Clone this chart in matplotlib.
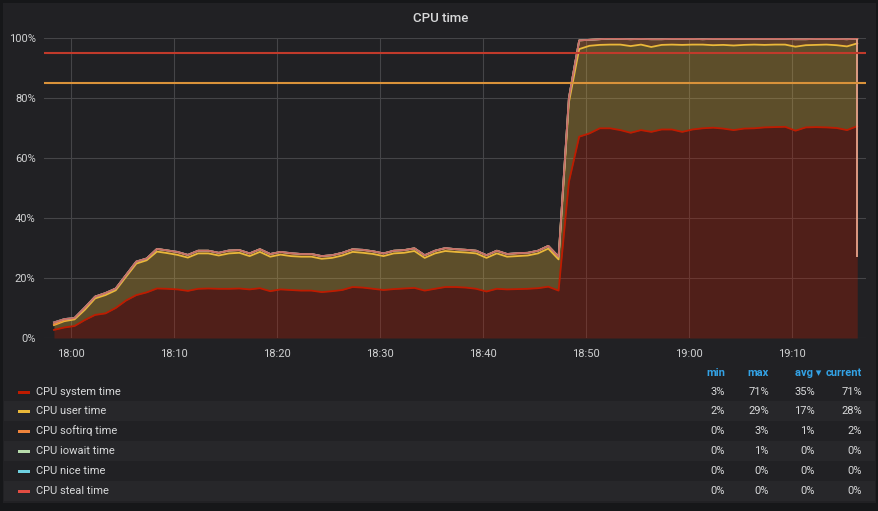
import numpy as np
import pandas as pd
import matplotlib
matplotlib.use('Agg')
import matplotlib.pyplot as plt
import matplotlib.dates as mdates
from matplotlib.patches import Rectangle

plt.rcParams['font.family'] = ['Roboto', 'DejaVu Sans']

# one sample per minute, first one at 17:58:20
times = pd.date_range('2020-01-01 17:58:20', periods=79, freq='1min')

system = [2.7, 3.5, 4.0, 6.0, 7.7, 8.2, 10.0, 12.5, 14.3, 15.2,
          16.5, 16.4, 16.2, 15.7, 16.4, 16.5, 16.4, 16.4, 16.5, 16.2,
          16.6, 15.6, 16.2, 16.0, 15.8, 15.8, 15.3, 15.6, 16.0, 17.0,
          16.8, 16.4, 16.0, 16.3, 16.5, 16.7, 15.8, 16.4, 17.0, 17.0,
          16.8, 16.4, 15.5, 16.4, 16.2, 16.3, 16.4, 16.6, 17.1, 15.8,
          52.0, 67.1, 68.2, 69.9, 69.9, 69.3, 68.4, 69.3, 68.7, 69.5,
          69.5, 68.7, 69.5, 69.9, 70.1, 69.8, 69.3, 69.8, 69.9, 70.2,
          70.3, 70.4, 69.1, 70.2, 70.3, 70.2, 70.0, 69.3, 70.6]
user = [1.6, 2.1, 2.2, 3.4, 5.5, 6.1, 5.9, 7.9, 10.5, 10.7,
        12.3, 11.9, 11.5, 11.1, 11.8, 11.7, 11.1, 11.8, 11.9, 11.1,
        12.1, 11.5, 11.6, 11.3, 11.3, 11.3, 11.1, 11.1, 11.5, 11.7,
        11.6, 11.6, 11.3, 11.9, 11.9, 12.3, 10.9, 11.8, 12.0, 11.7,
        11.7, 11.8, 11.2, 11.8, 10.9, 11.0, 11.1, 11.6, 12.7, 10.4,
        26.5, 29.2, 29.2, 27.8, 27.9, 28.5, 28.9, 28.5, 28.3, 28.2,
        28.3, 29.0, 28.3, 27.9, 27.5, 27.9, 28.2, 27.9, 27.9, 27.5,
        27.5, 27.4, 28.0, 27.4, 27.4, 27.6, 27.6, 27.9, 27.6]
softirq = [0.3, 0.4, 0.4, 0.6, 0.6, 0.6, 0.6, 0.6, 0.6, 0.6,
           0.9, 0.9, 0.9, 0.9, 0.9, 0.9, 0.9, 0.9, 0.9, 0.9,
           0.9, 0.9, 0.9, 0.9, 0.9, 0.9, 0.9, 0.9, 0.9, 0.9,
           0.9, 0.9, 0.9, 0.9, 0.9, 0.9, 0.9, 0.9, 0.9, 0.9,
           0.9, 0.9, 0.9, 0.9, 0.9, 0.9, 0.9, 0.9, 0.9, 0.9,
           1.5, 2.9, 2.0, 1.9, 2.0, 1.9, 2.3, 1.9, 2.6, 1.9,
           1.9, 2.0, 1.9, 1.8, 2.1, 2.0, 2.2, 2.0, 1.9, 2.0,
           1.9, 1.9, 2.5, 2.0, 2.0, 1.9, 2.1, 2.4, 1.6]
iowait = [0.6, 0.3, 0.1, 0.2, 0.0, 0.1, 0.0, 0.0, 0.1, 0.0,
          0.0, 0.0, 0.1, 0.0, 0.0, 0.0, 0.0, 0.1, 0.0, 0.0,
          0.0, 0.0, 0.0, 0.1, 0.0, 0.0, 0.0, 0.0, 0.0, 0.0,
          0.1, 0.0, 0.0, 0.0, 0.0, 0.0, 0.0, 0.0, 0.1, 0.0,
          0.0, 0.0, 0.0, 0.0, 0.0, 0.1, 0.0, 0.0, 0.0, 0.0,
          0.0, 0.0, 0.0, 0.0, 0.0, 0.0, 0.0, 0.0, 0.0, 0.0,
          0.0, 0.0, 0.0, 0.0, 0.0, 0.0, 0.0, 0.0, 0.0, 0.0,
          0.0, 0.0, 0.0, 0.0, 0.0, 0.0, 0.0, 0.0, 0.0]
nice = [0.0] * len(times)   # flat zero all along
steal = [0.0] * len(times)  # flat zero all along
last_drop = 27  # the edge falls to this at the very last sample

names = ['CPU system time', 'CPU user time', 'CPU softirq time',
         'CPU iowait time', 'CPU nice time', 'CPU steal time']
colors = ['#bf1b00', '#eab839', '#ef843c', '#b7dbab', '#6ed0e0', '#e24d42']
stat_min = [3, 2, 0, 0, 0, 0]
stat_max = [71, 29, 3, 1, 0, 0]
stat_avg = [35, 17, 1, 0, 0, 0]
stat_cur = [71, 28, 2, 0, 0, 0]
thresholds = [95, 85]
threshold_colors = ['#c13a2b', '#d9923a']

W, H = 879, 511
fig = plt.figure(figsize=(W / 100, H / 100), dpi=100)
fig.patch.set_facecolor('#161719')

def fx(px):
    return px / W

def fy(py):
    return 1 - py / H

# panel background
fig.patches.append(Rectangle((fx(3), fy(503)), fx(873), 500 / H, transform=fig.transFigure,
                             facecolor='#212124', edgecolor='none', zorder=-2))

fig.text(fx(441), fy(18), 'CPU time', color='#d8d9da', fontsize=9.5, fontweight='medium',
         ha='center', va='center')

ax = fig.add_axes([fx(44), fy(338), fx(866 - 44), 300 / H])
ax.set_facecolor('none')
ax.set_zorder(1)

stack = np.vstack([system, user, softirq, iowait, nice, steal])
cum = np.cumsum(stack, axis=0)
bottom = np.zeros(len(times))
for k in range(len(names)):
    top = cum[k]
    ax.fill_between(times, bottom, top, color=colors[k], alpha=0.3, lw=0, zorder=2)
    ax.plot(times, top, color=colors[k], lw=1.3, alpha=0.75 if k > 2 else 1, zorder=3)
    bottom = top
ax.vlines(times[-1], last_drop, cum[-1][-1], color='#e8a38a', lw=1.3, zorder=3)

for t, c in zip(thresholds, threshold_colors):
    ax.axhline(t, color=c, lw=1.5, zorder=4)

ax.set_ylim(0, 100)
ax.set_xlim(pd.Timestamp('2020-01-01 17:57:22'), pd.Timestamp('2020-01-01 19:17:11'))
ax.set_yticks([0, 20, 40, 60, 80, 100])
ax.set_yticklabels(['%d%%' % v for v in [0, 20, 40, 60, 80, 100]])
ax.xaxis.set_major_locator(mdates.MinuteLocator(byminute=[0, 10, 20, 30, 40, 50]))
ax.xaxis.set_major_formatter(mdates.DateFormatter('%H:%M'))
ax.grid(True, color='#454548', lw=0.8, zorder=1)
ax.set_axisbelow(True)
for s in ax.spines.values():
    s.set_visible(False)
ax.tick_params(length=0, colors='#d0d1d2', labelsize=8)
ax.tick_params(axis='y', pad=6)
ax.tick_params(axis='x', pad=8)

# legend table
header_y = 373
row_y = [392, 411, 431, 451, 471, 491]
col_x = [725, 769, 815, 862]
for i, y in enumerate(row_y):
    if i % 2 == 1:
        fig.patches.append(Rectangle((fx(4), fy(y + 10)), fx(871), 20 / H, transform=fig.transFigure,
                                     facecolor='#27272a', edgecolor='none', zorder=-1))
    fig.patches.append(Rectangle((fx(18), fy(y + 2)), fx(12), 3 / H, transform=fig.transFigure,
                                 facecolor=colors[i], edgecolor='none', zorder=1))
    fig.text(fx(36), fy(y), names[i], color='#d8d9da', fontsize=8, ha='left', va='center')
    for x, vals in zip(col_x, [stat_min, stat_max, stat_avg, stat_cur]):
        fig.text(fx(x), fy(y), '%d%%' % vals[i], color='#d8d9da', fontsize=8, ha='right', va='center')

for x, lab in zip(col_x, ['min', 'max', 'avg \u25be', 'current']):
    fig.text(fx(x if lab != 'avg \u25be' else 821), fy(header_y), lab, color='#33a2e5', fontsize=8,
             fontweight='bold', ha='right', va='center')

fig.savefig('out.png', dpi=100, facecolor=fig.get_facecolor())
